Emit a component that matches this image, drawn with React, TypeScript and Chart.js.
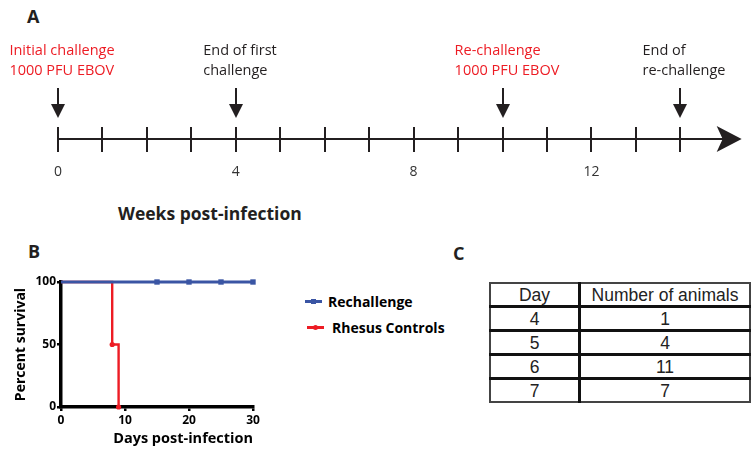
import React, { useEffect, useRef } from "react";
import { Chart, registerables } from "chart.js";
Chart.register(...registerables);

// ---------- Panel A data ----------
const timelineWeeks = [0, 1, 2, 3, 4, 5, 6, 7, 8, 9, 10, 11, 12, 13, 14];
const timelineLabelWeeks = [0, 4, 8, 12];
const timelineEnd = 15.38;
const eventWeeks = [0, 4, 10, 14];
const eventLines = [
  ["Initial challenge", "1000 PFU EBOV"],
  ["End of first", "challenge"],
  ["Re-challenge", "1000 PFU EBOV"],
  ["End of", "re-challenge"],
];
const eventIsChallenge = [true, false, true, false];

// ---------- Panel B data ----------
const seriesNames = ["Rechallenge", "Rhesus Controls"];
const rechallengeDays = [0, 15, 20, 25, 30];
const rechallengeSurvival = [100, 100, 100, 100, 100];
const controlDays = [0, 8, 9];
const controlSurvival = [100, 50, 0];

// ---------- Panel C data ----------
const tableHeaders = ["Day", "Number of animals"];
const tableDays = [4, 5, 6, 7];
const tableAnimals = [1, 4, 11, 7];

const INK = "#231f20";
const RED = "#ed1c24";
const BLUE = "#3a55a4";
const FONT = "'Open Sans', sans-serif";

function TimelineChart() {
  const ref = useRef<HTMLCanvasElement>(null);
  useEffect(() => {
    const canvas = ref.current!;
    const timelinePlugin = {
      id: "timelineDecor",
      afterDatasetsDraw(chart: any) {
        const { ctx } = chart;
        const x = chart.scales.x;
        const y = chart.scales.y;
        const y0 = Math.round(y.getPixelForValue(0));
        ctx.save();
        ctx.strokeStyle = INK;
        ctx.fillStyle = INK;
        ctx.lineWidth = 2;
        timelineWeeks.forEach((w) => {
          const px = Math.round(x.getPixelForValue(w));
          ctx.beginPath();
          ctx.moveTo(px, y0 - 12);
          ctx.lineTo(px, y0 + 13);
          ctx.stroke();
        });
        const tip = x.getPixelForValue(timelineEnd);
        ctx.beginPath();
        ctx.moveTo(tip, y0);
        ctx.lineTo(tip - 25, y0 - 13);
        ctx.lineTo(tip - 19, y0);
        ctx.lineTo(tip - 25, y0 + 13);
        ctx.closePath();
        ctx.fill();
        eventWeeks.forEach((w, i) => {
          const px = Math.round(x.getPixelForValue(w));
          ctx.strokeStyle = INK;
          ctx.fillStyle = INK;
          ctx.lineWidth = 2;
          ctx.beginPath();
          ctx.moveTo(px, y0 - 51);
          ctx.lineTo(px, y0 - 30);
          ctx.stroke();
          ctx.beginPath();
          ctx.moveTo(px - 7, y0 - 35);
          ctx.lineTo(px + 7, y0 - 35);
          ctx.lineTo(px, y0 - 21);
          ctx.closePath();
          ctx.fill();
          ctx.font = `14.5px ${FONT}`;
          ctx.fillStyle = eventIsChallenge[i] ? RED : INK;
          ctx.textBaseline = "alphabetic";
          ctx.textAlign = "left";
          const lines = eventLines[i];
          const wmax = Math.max(...lines.map((l) => ctx.measureText(l).width));
          const left = px - wmax / 2 + 4;
          lines.forEach((l, j) => ctx.fillText(l, Math.max(5, left), y0 - 84 + j * 20));
        });
        ctx.restore();
      },
    };
    const chart = new Chart(canvas, {
      type: "scatter",
      data: {
        datasets: [
          {
            data: [
              { x: 0, y: 0 },
              { x: timelineEnd - 0.3, y: 0 },
            ],
            showLine: true,
            borderColor: INK,
            borderWidth: 2,
            pointRadius: 0,
            clip: false as any,
          },
        ],
      },
      options: {
        responsive: false,
        animation: false,
        events: [],
        layout: { padding: { left: 58, right: 8, top: 0, bottom: 0 } },
        plugins: { legend: { display: false }, tooltip: { enabled: false } },
        scales: {
          x: {
            type: "linear",
            min: 0,
            max: 15.5,
            afterFit: (s: any) => {
              s.height = 41;
            },
            grid: { display: false, drawTicks: false },
            border: { display: false },
            afterBuildTicks: (scale: any) => {
              scale.ticks = timelineLabelWeeks.map((v) => ({ value: v }));
            },
            ticks: {
              padding: 25,
              color: "#333",
              font: { family: FONT, size: 14 },
              autoSkip: false,
              maxRotation: 0,
              callback: (v: any) => String(v),
            },
          },
          y: { display: false, min: 0, max: 1 },
        },
      },
      plugins: [timelinePlugin],
    } as any);
    return () => chart.destroy();
  }, []);
  return (
    <canvas
      ref={ref}
      width={755}
      height={180}
      style={{ position: "absolute", left: 0, top: 0, width: 755, height: 180 }}
    />
  );
}

function SurvivalChart() {
  const ref = useRef<HTMLCanvasElement>(null);
  useEffect(() => {
    const canvas = ref.current!;
    const chart = new Chart(canvas, {
      type: "line",
      data: {
        datasets: [
          {
            label: seriesNames[0],
            data: rechallengeDays.map((d, i) => ({ x: d, y: rechallengeSurvival[i] })),
            borderColor: BLUE,
            backgroundColor: BLUE,
            borderWidth: 3.2,
            stepped: true,
            pointStyle: "rect",
            pointRadius: rechallengeDays.map((d, i) => (i === 0 ? 0 : 3.8)),
            pointBorderWidth: 0,
            clip: false as any,
            order: 0,
          },
          {
            label: seriesNames[1],
            data: controlDays.map((d, i) => ({ x: d, y: controlSurvival[i] })),
            borderColor: RED,
            backgroundColor: RED,
            borderWidth: 2.4,
            stepped: true,
            pointStyle: "circle",
            pointRadius: controlDays.map((d, i) => (i === 0 ? 0 : 2.6)),
            pointBorderWidth: 0,
            clip: false as any,
            order: 1,
          },
        ],
      },
      options: {
        responsive: false,
        animation: false,
        events: [],
        layout: { padding: { left: 0, right: 37, top: 42, bottom: 0 } },
        plugins: { legend: { display: false }, tooltip: { enabled: false } },
        scales: {
          x: {
            type: "linear",
            min: 0,
            max: 30,
            afterFit: (s: any) => {
              s.height = 45;
            },
            border: { display: true, color: "#000", width: 3.5 },
            grid: {
              drawOnChartArea: false,
              drawTicks: true,
              tickLength: 4,
              color: "#000",
              lineWidth: 2.5,
            },
            ticks: {
              stepSize: 10,
              padding: 2,
              color: "#000",
              font: { family: FONT, size: 12, weight: "bold" },
              maxRotation: 0,
            },
            title: {
              display: true,
              text: "Days post-infection",
              align: "end",
              color: "#000",
              font: { family: FONT, size: 14.5, weight: "bold" },
              padding: { top: 0, bottom: 4 },
            },
          },
          y: {
            min: 0,
            max: 100,
            afterFit: (s: any) => {
              s.width = 61;
            },
            border: { display: true, color: "#000", width: 3.5 },
            grid: {
              drawOnChartArea: false,
              drawTicks: true,
              tickLength: 4,
              color: "#000",
              lineWidth: 2.5,
            },
            ticks: {
              stepSize: 50,
              padding: 1,
              color: "#000",
              font: { family: FONT, size: 12, weight: "bold" },
            },
            title: {
              display: true,
              text: "Percent survival",
              color: "#000",
              font: { family: FONT, size: 14, weight: "bold" },
              padding: { top: 13, bottom: 0 },
            },
          },
        },
      },
    } as any);
    return () => chart.destroy();
  }, []);
  return (
    <canvas
      ref={ref}
      width={290}
      height={212}
      style={{ position: "absolute", left: 0, top: 240, width: 290, height: 212 }}
    />
  );
}

function LegendItem({ color, square, label, top, left, gap }: any) {
  return (
    <div style={{ position: "absolute", left, top, height: 16, display: "flex", alignItems: "center" }}>
      <div style={{ position: "relative", width: 17, height: 16, marginRight: gap }}>
        <div style={{ position: "absolute", left: 0, top: 6.5, width: 17, height: 3, background: color }} />
        <div
          style={{
            position: "absolute",
            left: 5.5,
            top: 5.5,
            width: 5,
            height: 5,
            background: color,
            borderRadius: square ? 0 : 3,
          }}
        />
      </div>
      <span style={{ fontFamily: FONT, fontWeight: 700, fontSize: 14, color: "#000", whiteSpace: "nowrap" }}>{label}</span>
    </div>
  );
}

export default function App() {
  const cell = (extra: any) => ({
    padding: 0,
    height: 21,
    textAlign: "center" as const,
    color: "#222",
    ...extra,
  });
  const letter = {
    position: "absolute" as const,
    fontSize: 18,
    fontWeight: 700,
    lineHeight: "22px",
    color: INK,
    fontFamily: FONT,
  };
  return (
    <div
      style={{
        position: "fixed",
        left: 0,
        top: 0,
        width: 755,
        height: 452,
        background: "#fff",
        overflow: "hidden",
        fontFamily: FONT,
      }}
    >
      <div style={{ ...letter, left: 27, top: 5 }}>A</div>
      <TimelineChart />
      <div
        style={{
          position: "absolute",
          left: 118,
          top: 201,
          fontSize: 17.5,
          fontWeight: 700,
          lineHeight: "24px",
          color: INK,
          whiteSpace: "nowrap",
        }}
      >
        Weeks post-infection
      </div>
      <div style={{ ...letter, left: 28, top: 240 }}>B</div>
      <SurvivalChart />
      <LegendItem color={BLUE} square label={seriesNames[0]} left={305} top={293} gap={6} />
      <LegendItem color={RED} square={false} label={seriesNames[1]} left={307} top={319} gap={8} />
      <div style={{ ...letter, left: 453, top: 242 }}>C</div>
      <table
        style={{
          position: "absolute",
          left: 489,
          top: 282,
          width: 262,
          borderCollapse: "collapse",
          border: "2px solid #444",
          fontFamily: "'Liberation Sans', Arial, sans-serif",
          fontSize: 17.5,
          lineHeight: "20px",
        }}
      >
        <tbody>
          <tr>
            <td style={cell({ width: 87, borderRight: "3px solid #111", borderBottom: "3px solid #111" })}>{tableHeaders[0]}</td>
            <td style={cell({ borderBottom: "3px solid #111" })}>{tableHeaders[1]}</td>
          </tr>
          {tableDays.map((d, i) => (
            <tr key={d}>
              <td
                style={cell({
                  borderRight: "3px solid #111",
                  borderBottom: i < tableDays.length - 1 ? "3px solid #111" : undefined,
                })}
              >
                {d}
              </td>
              <td style={cell({ borderBottom: i < tableDays.length - 1 ? "3px solid #111" : undefined })}>{tableAnimals[i]}</td>
            </tr>
          ))}
        </tbody>
      </table>
    </div>
  );
}
